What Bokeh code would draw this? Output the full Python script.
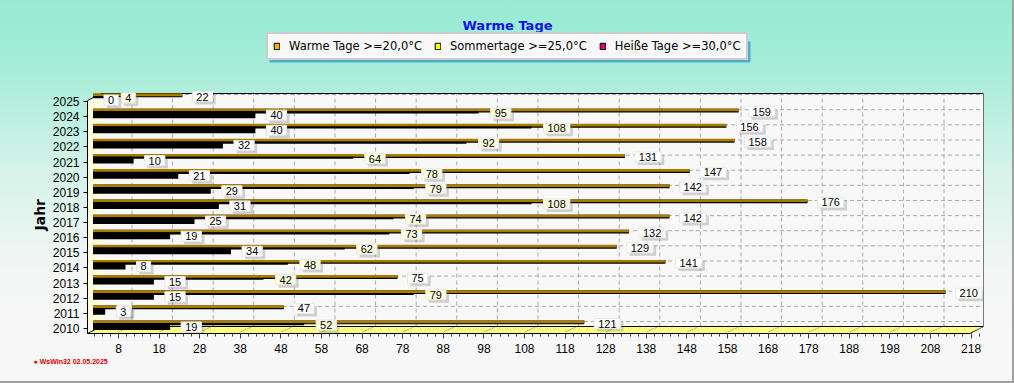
from bokeh.plotting import figure
from bokeh.models import (Range1d, FixedTicker, Legend, LegendItem, Label,
                          ColumnDataSource, Title, BoxAnnotation)
from bokeh.core.properties import value
from bokeh.embed import file_html
from bokeh.resources import INLINE

# ---------------- data ----------------
years = [2010, 2011, 2012, 2013, 2014, 2015, 2016, 2017,
         2018, 2019, 2020, 2021, 2022, 2023, 2024, 2025]
warme = [121, 47, 210, 75, 141, 129, 132, 142, 176, 142, 147, 131, 158, 156, 159, 22]
sommer = [52, 3, 79, 42, 48, 62, 73, 74, 108, 79, 78, 64, 92, 108, 95, 4]
heisse = [19, 3, 15, 15, 8, 34, 19, 25, 31, 29, 21, 10, 32, 40, 40, 0]
x_ticks = list(range(8, 219, 10))
x_minor = list(range(0, 222, 2))
series_names = ["Warme Tage >=20,0°C", "Sommertage >=25,0°C", "Heiße Tage >=30,0°C"]
legend_colors = ["#F0B400", "#FFFF00", "#E8006C"]

# ---------------- geometry ----------------
PX_X = 4.06     # px per day
PX_Y = 15.13    # px per year
X0, X1 = 0.37, 221.06
Y0 = 2009.67          # bottom of frame (front floor edge)
YT = 2025.53          # top of the plot box
YF = 2031.68          # top of frame (canvas top)
DXB = 13.5 / PX_X     # 3D depth (back plane)
DYB = 7.0 / PX_Y
DXM = 7.0 / PX_X      # bars at mid depth

FONT = value("Liberation Sans")

p = figure(width=1014, height=383, output_backend="svg", toolbar_location=None,
           title_location=None,
           x_range=Range1d(X0, X1), y_range=Range1d(Y0, YF),
           min_border_left=87, min_border_right=31, min_border_top=0,
           min_border_bottom=50)
p.extra_x_ranges = {"bar": Range1d(X0 - DXM, X1 - DXM)}

p.border_fill_color = None
p.background_fill_color = None
p.outline_line_color = None
p.styles = {"background": "linear-gradient(to bottom, #96EAD3 0%, #A6EDD8 18%, #D6F3EA 45%, #F2F6F4 70%, #F7F7F7 85%, #F7F7F7 100%)",
            "box-shadow": "inset -2px -2px 0 #A0A0A0"}

p.xgrid.grid_line_color = None
p.ygrid.grid_line_color = None

# axes
xa = p.xaxis[0]
xa.ticker = FixedTicker(ticks=x_ticks, minor_ticks=x_minor)
xa.bounds = (X0, X1 - DXB)
xa.major_label_text_font = "Liberation Sans"
xa.major_label_text_font_size = "12px"
xa.major_label_text_color = "black"
xa.major_tick_out = 5
xa.major_tick_in = 0
xa.minor_tick_out = 3
xa.minor_tick_in = 0
xa.major_label_standoff = 5
xa.axis_line_color = "black"
xa.major_tick_line_color = "#404040"
xa.minor_tick_line_color = "#404040"

ya = p.yaxis[0]
ya.ticker = FixedTicker(ticks=years)
ya.bounds = (Y0, YT - DYB)
ya.major_label_text_font = "Liberation Sans"
ya.major_label_text_font_size = "12px"
ya.major_label_text_color = "black"
ya.major_tick_out = 4
ya.major_tick_in = 0
ya.minor_tick_line_color = None
ya.major_label_standoff = 4
ya.axis_line_color = "black"

# plot box: back plane, left wall, floor (3D look)
p.quad(left=[X0 + DXB], right=[X1], bottom=[Y0 + DYB], top=[YT],
       fill_color="#F8F8F8", line_color=None)
p.patch(x=[X0, X0 + DXB, X0 + DXB, X0], y=[Y0, Y0 + DYB, YT, YT - DYB],
        fill_color="#FFFFE0", line_color=None)
# grid lines on the back plane
p.segment(x0=[t + DXB for t in x_ticks], y0=[Y0 + DYB] * len(x_ticks),
          x1=[t + DXB for t in x_ticks], y1=[YT] * len(x_ticks),
          line_color="#A8A8A8", line_dash="4 3", line_width=1)
p.segment(x0=[X0 + DXB] * len(years), y0=[y + DYB for y in years],
          x1=[X1] * len(years), y1=[y + DYB for y in years],
          line_color="#A8A8A8", line_dash="4 3", line_width=1)
p.line(x=[X0, X0 + DXB, X1, X1], y=[YT - DYB, YT, YT, Y0 + DYB],
       line_color="black", line_width=1)
p.patch(x=[X0, X1 - DXB, X1, X0 + DXB], y=[Y0, Y0, Y0 + DYB, Y0 + DYB],
        fill_color="#FFFF80", line_color="black", line_width=1)
p.segment(x0=x_ticks, y0=[Y0 + 0.1] * len(x_ticks),
          x1=[t + DXB * 0.8 for t in x_ticks], y1=[Y0 + DYB - 0.05] * len(x_ticks),
          line_color="#B8B8A0", line_width=1)

# ---------------- bars ----------------
src = ColumnDataSource(dict(
    year=years, warme=warme, sommer=sommer, heisse=heisse,
    y_w_base=[y + 0.40 for y in years],
    y_w=[y + 0.445 for y in years],
    y_s=[y + 0.28 for y in years],
    y_h=[y + 0.125 for y in years],
    ly_w=[y + 0.33 for y in years],
    ly_s=[y + 0.23 for y in years],
    ly_h=[y + 0.10 for y in years],
    t_w=[str(v) for v in warme],
    t_s=[str(v) for v in sommer],
    t_h=[str(v) for v in heisse],
))

p.hbar(y="y_w_base", left=0, right="warme", height=0.245, source=src,
       x_range_name="bar", fill_color="black", line_color=None)
p.hbar(y="y_w", left=0, right="warme", height=0.18, source=src,
       x_range_name="bar", fill_color="#A87C00", line_color=None)
p.hbar(y="y_s", left=0, right="sommer", height=0.13, source=src,
       x_range_name="bar", fill_color="black", line_color=None)
p.hbar(y="y_h", left=0, right="heisse", height=0.44, source=src,
       x_range_name="bar", fill_color="black", line_color=None)

# ---------------- value labels ----------------
PAD = dict(left=4, right=4, top=1, bottom=1)


def value_labels(ycol, xcol, tcol, xoff, bg):
    p.text(x=xcol, y=ycol, text=tcol, source=src, x_range_name="bar",
           x_offset=xoff + 3, y_offset=3, text_alpha=0,
           background_fill_color="#707070", background_fill_alpha=0.3,
           padding=PAD, text_font=FONT, text_font_size="11px",
           text_baseline="middle", text_align="left")
    p.text(x=xcol, y=ycol, text=tcol, source=src, x_range_name="bar",
           x_offset=xoff, text_color="black",
           background_fill_color=bg, border_line_color="#E8E8E8",
           padding=PAD, text_font=FONT, text_font_size="11px",
           text_baseline="middle", text_align="left")


value_labels("ly_w", "warme", "t_w", 10, "white")
value_labels("ly_s", "sommer", "t_s", 12, "#FFFFE0")
value_labels("ly_h", "heisse", "t_h", 11, "white")

# ---------------- legend ----------------
p.add_layout(BoxAnnotation(left=182, right=663, bottom=271, top=292,
                           left_units="screen", right_units="screen",
                           bottom_units="screen", top_units="screen",
                           fill_color="#3FA3CC", fill_alpha=0.85, line_color=None))
items = []
for name, col in zip(series_names, legend_colors):
    r = p.quad(left=[X0], right=[X0], bottom=[Y0], top=[Y0],
               fill_color=col, line_color="black")
    items.append(LegendItem(label=name, renderers=[r]))
legend = Legend(items=items, orientation="horizontal", location=(179, 273),
                glyph_width=7, glyph_height=8, label_standoff=9, spacing=12,
                padding=5, margin=0, label_height=12,
                label_text_font="DejaVu Sans", label_text_font_size="11.5px",
                label_text_color="black",
                background_fill_color="#F8F8F8", background_fill_alpha=1,
                border_line_color="#A0A0A0", border_line_width=2)
p.add_layout(legend, "center")

# ---------------- title, axis title, footer ----------------
p.add_layout(Label(x=420, y=308, x_units="screen", y_units="screen", text="Warme Tage",
                   text_font="DejaVu Sans", text_font_style="bold", text_font_size="13px",
                   text_color="#1010E8", text_align="center", text_baseline="middle"))
p.add_layout(Title(text="Jahr", align="left", offset=103, standoff=3,
                   text_font="DejaVu Sans", text_font_style="bold", text_font_size="14px",
                   text_color="black"), "left")
p.add_layout(Title(text="● WsWin32  02.05.2025", align="left", offset=-54, standoff=0,
                   text_font="Liberation Sans", text_font_style="bold", text_font_size="7px",
                   text_color="#E00000"), "below")

open("out.html", "w").write(file_html(p, INLINE))
